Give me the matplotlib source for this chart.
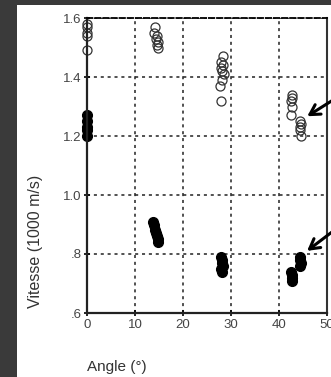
import numpy as np
import matplotlib
matplotlib.use("Agg")
from matplotlib import pyplot as plt
from matplotlib.patches import Rectangle

# open circles (upper group)
open_x = [0, 0, 0, 0, 0,
          14.2, 14.0, 14.6, 14.3, 14.8, 14.5, 14.7,
          28.4, 28.0, 28.3, 27.9, 28.2, 28.5, 28.1, 27.8, 28.0,
          42.7, 42.8, 42.6, 42.7, 42.5,
          44.4, 44.5, 44.3, 44.4, 44.6]
open_y = [1.58, 1.57, 1.55, 1.54, 1.49,
          1.57, 1.55, 1.54, 1.53, 1.52, 1.51, 1.50,
          1.47, 1.45, 1.44, 1.43, 1.42, 1.41, 1.39, 1.37, 1.32,
          1.34, 1.33, 1.32, 1.30, 1.27,
          1.25, 1.24, 1.23, 1.22, 1.20]

# filled circles (lower group)
fill_x = [0, 0, 0, 0, 0,
          13.8, 14.0, 14.2, 14.4, 14.5, 14.7, 14.8,
          28.0, 28.2, 28.1, 28.3, 28.0, 28.2,
          42.6, 42.7, 42.8, 42.7,
          44.3, 44.4, 44.5, 44.4]
fill_y = [1.27, 1.25, 1.23, 1.22, 1.20,
          0.91, 0.90, 0.88, 0.87, 0.86, 0.85, 0.84,
          0.79, 0.78, 0.77, 0.76, 0.75, 0.74,
          0.74, 0.73, 0.72, 0.71,
          0.79, 0.78, 0.77, 0.76]

xticks = [0, 10, 20, 30, 40, 50]
yticks = [0.6, 0.8, 1.0, 1.2, 1.4, 1.6]
ytick_labels = [".6", ".8", "1.0", "1.2", "1.4", "1.6"]

plt.rcParams['font.family'] = ['Liberation Sans', 'DejaVu Sans']

fig = plt.figure(figsize=(3.31, 3.77), dpi=100, facecolor="#3a3a3a")
fig.patches.append(Rectangle((17 / 331, 0), 1, 1 - 5 / 377, transform=fig.transFigure,
                             facecolor="white", edgecolor="none", zorder=-10))

ax = fig.add_axes([87 / 331, 1 - 313 / 377, 240 / 331, 295 / 377])
ax.set_zorder(5)
ax.patch.set_alpha(0)
ax.set_xlim(0, 50)
ax.set_ylim(0.6, 1.6)

ax.grid(True, linestyle=(0, (2, 2.5)), color="#222222", linewidth=1.1)
ax.set_axisbelow(True)

ax.plot(open_x, open_y, 'o', markerfacecolor='none', markeredgecolor='#333333',
        markersize=6.5, markeredgewidth=0.9, clip_on=False)
ax.plot(fill_x, fill_y, 'o', color='black', markersize=7, clip_on=False)

ax.set_xticks(xticks)
ax.set_yticks(yticks)
ax.set_yticklabels(ytick_labels)
ax.tick_params(axis='both', direction='inout', length=4, width=1.2, labelsize=9.5,
               labelcolor='#444444', pad=2)

for s in ['left', 'bottom']:
    ax.spines[s].set_linewidth(1.6)
    ax.spines[s].set_color('#222222')
ax.spines['top'].set_linestyle((0, (3, 1.5)))
ax.spines['top'].set_linewidth(1.3)
ax.spines['right'].set_linewidth(1.5)
ax.spines['right'].set_color('#333333')

ax.set_ylabel("Vitesse (1000 m/s)", fontsize=11.5, color='#333333')
ax.yaxis.set_label_coords(-44 / 240, (313 - 241) / 295)
ax.set_xlabel("Angle (°)", fontsize=11, color='#333333', ha='left')
ax.xaxis.set_label_coords(0, -(360 - 313) / 295)

arrowprops = dict(arrowstyle='->,head_length=0.7,head_width=0.4', lw=2.2, color='black')
ax.annotate("", xy=(45.4, 1.262), xytext=(53.5, 1.345), arrowprops=arrowprops,
            annotation_clip=False)
ax.annotate("", xy=(45.4, 0.805), xytext=(53.5, 0.905), arrowprops=arrowprops,
            annotation_clip=False)

plt.savefig("out.png", dpi=100, facecolor=fig.get_facecolor())
